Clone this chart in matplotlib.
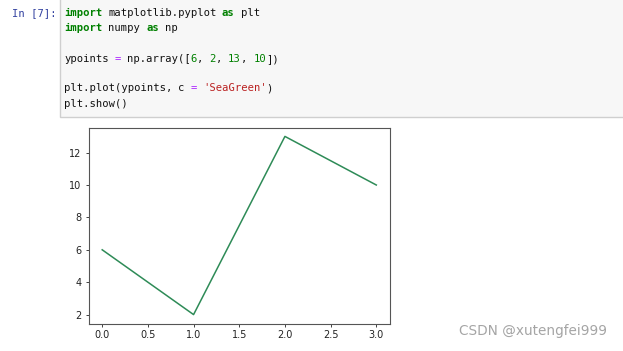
import re
import matplotlib
matplotlib.use("Agg")
import matplotlib.pyplot as plt
from matplotlib.patches import Rectangle
import numpy as np

# ---- data ----
ypoints = np.array([6, 2, 13, 10])
line_color = "SeaGreen"
prompt_text = "In [7]:"
watermark = "CSDN @xutengfei999"

GB, K, P, G, R = "kw", "k", "op", "num", "str"
code_lines = [
    [("import", GB), (" matplotlib.pyplot ", K), ("as", GB), (" plt", K)],
    [("import", GB), (" numpy ", K), ("as", GB), (" np", K)],
    [],
    [("ypoints ", K), ("=", P), (" np.array([", K), ("6", G), (", ", K), ("2", G),
     (", ", K), ("13", G), (", ", K), ("10", G), ("])", K)],
    [],
    [("plt.plot(ypoints, c ", K), ("=", P), (" ", K), ("'SeaGreen'", R), (")", K)],
    [("plt.show()", K)],
]
styles = {
    GB: dict(color="#008000", weight="bold"),
    K: dict(color="#111111"),
    P: dict(color="#AA22FF"),
    G: dict(color="#008000"),
    R: dict(color="#BA2121"),
}

W, H = 623, 351
fig = plt.figure(figsize=(W / 100, H / 100), dpi=100)
fig.patch.set_facecolor("white")

def fx(x):
    return x / W

def fy(y):
    return 1 - y / H

# code cell box
fig.patches.append(Rectangle((fx(59.5), fy(116.5)), fx(700), 116.5 / H + 0.05,
                             transform=fig.transFigure, facecolor="#F7F7F7",
                             edgecolor="#CFCFCF", linewidth=1.0, zorder=0))

mono = "DejaVu Sans Mono"
fs = 7.55
adv = fs * 100 / 72 * 1233 / 2048   # monospace advance in pixels
baseline_y = [16.3, 31.4, 47, 62.3, 77, 91.2, 106.7]

for li, toks in enumerate(code_lines):
    col = 0
    for text, kind in toks:
        for m in re.finditer(r"\S+", text):
            fig.text(fx(64 + (col + m.start()) * adv), fy(baseline_y[li]), m.group(),
                     family=mono, fontsize=fs, va="baseline", ha="left", **styles[kind])
        col += len(text)

fig.text(fx(57), fy(baseline_y[0]), prompt_text, family=mono, fontsize=fs,
         va="baseline", ha="right", color="#303F9F")

# plot axes
ax = fig.add_axes([fx(88.5), fy(323.5), (390 - 88.5) / W, (323.5 - 127.5) / H])
ax.plot(ypoints, c=line_color, linewidth=1.1)
ax.tick_params(labelsize=7, length=2.5, width=0.6, pad=2.5, colors="#222222")
for s in ax.spines.values():
    s.set_color("#555555")
    s.set_linewidth(0.8)

fig.text(fx(607), fy(331), watermark, family="DejaVu Sans", fontsize=9.8,
         color="#A5A5A5", ha="right", va="center")

fig.savefig("out.png", dpi=100)
